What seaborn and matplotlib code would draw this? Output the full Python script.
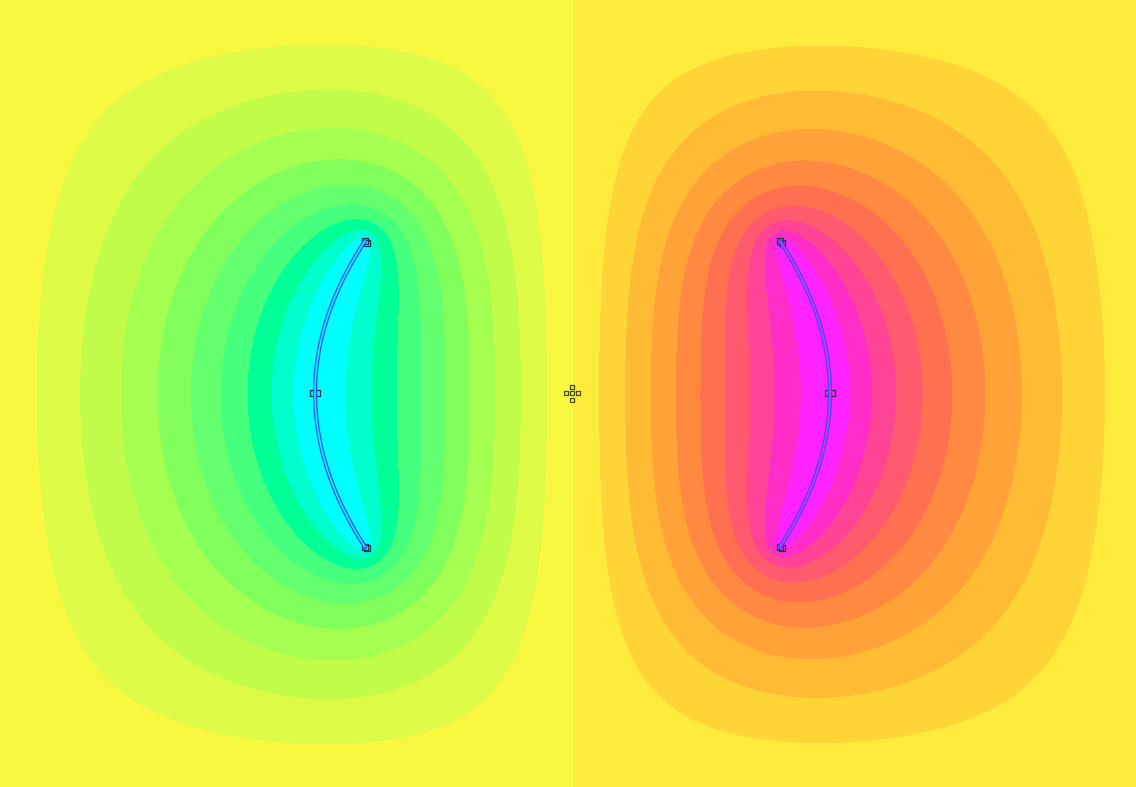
import numpy as np
import matplotlib
matplotlib.use("Agg")
import matplotlib.pyplot as plt
from matplotlib.colors import ListedColormap, BoundaryNorm
import seaborn as sns
import pandas as pd

W, H = 1136, 787
# grounded box holding the two electrodes (slightly larger than the view)
box_x0, box_x1 = -8.0, 1150.0
box_y0, box_y1 = -4.0, 793.0

# two curved electrodes: left held at +1, right at -1
arc_end_x = [365, 780]
arc_mid_x = [315, 830]
arc_top_y = [241, 241]
arc_mid_y = [393, 393]
arc_bot_y = [547, 547]
arc_potential = [1.0, -1.0]
arc_inner_colors = ["#00ffff", "#ff23ff"]

center_marks_x = [572, 566, 572, 578, 572]
center_marks_y = [387, 393, 393, 393, 400]

# contour levels (positive side; mirrored for the negative side)
pos_levels = [0.1, 0.2, 0.3, 0.4, 0.5, 0.6, 0.7, 0.8, 0.9]

# band colours from most negative to most positive
band_colors = [
    "#ff23ff", "#ff2dc8", "#ff4496", "#ff5a6e", "#ff7050", "#ff8941",
    "#ffa237", "#ffbb34", "#ffd437", "#ffeb3c",
    "#f8f841", "#dcfa46", "#c0fc48", "#a5ff50", "#80ff5c",
    "#64ff6e", "#46ff7d", "#00ff96", "#00ffcd", "#00ffff",
]

# ---- Laplace solution in the grounded box (spectral Green's function) ----
BW = box_x1 - box_x0
BH = box_y1 - box_y0
K, L = 290, 199
kk = np.arange(1, K + 1)
ll = np.arange(1, L + 1)
lam = np.pi ** 2 * ((kk[None, :] / BW) ** 2 + (ll[:, None] / BH) ** 2)
wgt = (4.0 / (BW * BH)) / lam

arc_curves = []
px, py, pv = [], [], []
for ex, mx, ty, my, by, v in zip(arc_end_x, arc_mid_x, arc_top_y, arc_mid_y, arc_bot_y, arc_potential):
    t = np.linspace(-1, 1, 3000)
    y = np.where(t < 0, my + t * (my - ty), my + t * (by - my))
    x = mx + (ex - mx) * t ** 2
    arc_curves.append((x, y))
    s = np.concatenate([[0], np.cumsum(np.hypot(np.diff(x), np.diff(y)))])
    n = int(s[-1] / 5.5) + 1
    sn = np.linspace(0, s[-1], n)
    px.append(np.interp(sn, s, x))
    py.append(np.interp(sn, s, y))
    pv.append(np.full(n, v))
px = np.concatenate(px)
py = np.concatenate(py)
pv = np.concatenate(pv)
sx = np.sin(np.pi * (px[:, None] - box_x0) * kk[None, :] / BW)
sy = np.sin(np.pi * (py[:, None] - box_y0) * ll[None, :] / BH)
A = (sy[:, :, None] * sx[:, None, :]).reshape(len(px), L * K)
G = (A * wgt.ravel()[None, :]) @ A.T
q = np.linalg.solve(G, pv)
C = wgt * (sy.T @ (q[:, None] * sx))
xg = np.linspace(0, W, 569)
yg = np.linspace(0, H, 395)
Ex = np.sin(np.pi * (xg[:, None] - box_x0) * kk[None, :] / BW)
Ey = np.sin(np.pi * (yg[:, None] - box_y0) * ll[None, :] / BH)
U = Ey @ C @ Ex.T

levels = [-10.0] + [-v for v in pos_levels[::-1]] + [0.0] + pos_levels + [10.0]
cmap = ListedColormap(band_colors)
norm = BoundaryNorm(levels, cmap.N)

sns.set_theme(style="white")
fig = plt.figure(figsize=(W / 100, H / 100), dpi=100)
ax = fig.add_axes([0, 0, 1, 1])
ax.contourf(xg, yg, U, levels=levels, cmap=cmap, norm=norm, antialiased=False)

for (x, y), inner in zip(arc_curves, arc_inner_colors):
    df = pd.DataFrame({"x": x, "y": y})
    sns.lineplot(data=df, x="x", y="y", sort=False, estimator=None, ax=ax,
                 color="#3550f5", linewidth=3.0)
    sns.lineplot(data=df, x="x", y="y", sort=False, estimator=None, ax=ax,
                 color=inner, linewidth=1.1)

mk = pd.DataFrame({
    "x": arc_end_x + arc_end_x + [e + 2 for e in arc_end_x] + [e + 2 for e in arc_end_x]
         + [m - 2 for m in arc_mid_x] + [m + 2 for m in arc_mid_x],
    "y": arc_top_y + arc_bot_y + [t + 2 for t in arc_top_y] + [b + 1 for b in arc_bot_y]
         + arc_mid_y + arc_mid_y,
})
sns.scatterplot(data=mk, x="x", y="y", marker="s", s=13, facecolor="none",
                edgecolor="#1a3a4a", linewidth=0.9, ax=ax)
cm = pd.DataFrame({"x": center_marks_x, "y": center_marks_y})
sns.scatterplot(data=cm, x="x", y="y", marker="s", s=10, facecolor="none",
                edgecolor="#4a4a10", linewidth=0.9, ax=ax)

ax.set_xlim(0, W)
ax.set_ylim(H, 0)
ax.axis("off")
fig.savefig("out.png", dpi=100)
